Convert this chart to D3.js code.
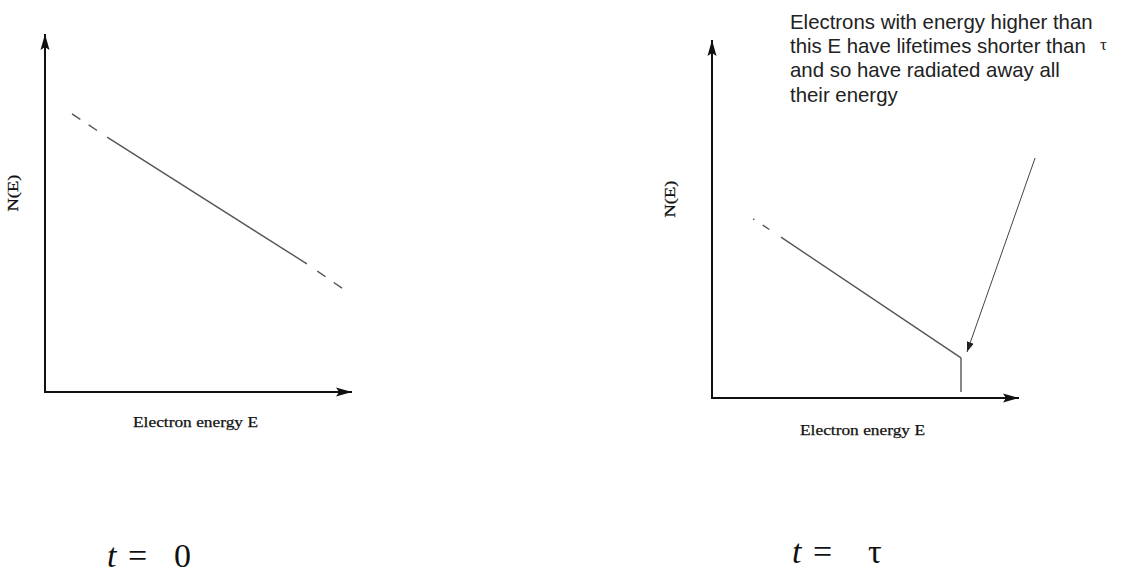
<!DOCTYPE html>
<html>
<head>
<meta charset="utf-8">
<script src="https://cdn.jsdelivr.net/npm/d3@7"></script>
<style>
  html, body { margin: 0; padding: 0; background: #fff; }
  svg { display: block; }
</style>
</head>
<body>
<svg id="chart" width="1127" height="573"></svg>
<script>
// ---------------- data ----------------
// panel titles
const panelTimes = ["0", "τ"];
// t = 0 spectrum (electron energy E, number N(E)) in arbitrary units
const energyT0 = [0.9, 2.07, 8.73, 9.9];
const countT0  = [7.9, 7.24, 3.64, 2.95];
// t = τ spectrum: power law then sharp cut-off
const energyTau = [1.37, 2.3, 8.3, 8.3];
const countTau  = [5.09, 4.57, 1.14, 0.17];
// annotation arrow (from, to) in data units of the t = τ panel
const arrowEnergy = [10.77, 8.5];
const arrowCount  = [6.82, 1.31];
// texts
const xAxisLabel = "Electron energy E";
const yAxisLabel = "N(E)";
const noteLines = [
  "Electrons with energy higher than",
  "this E have lifetimes shorter than",
  "and so have radiated away all",
  "their energy"
];

// ---------------- layout ----------------
const svg = d3.select("#chart");
svg.append("rect").attr("width", 1127).attr("height", 573).attr("fill", "#fff");

const defs = svg.append("defs");
defs.append("marker").attr("id", "axisHead")
  .attr("viewBox", "0 0 16 10").attr("refX", 16).attr("refY", 5)
  .attr("markerWidth", 16).attr("markerHeight", 10)
  .attr("markerUnits", "userSpaceOnUse").attr("orient", "auto")
  .append("path").attr("d", "M0,0.5 L16,5 L0,9.5 L3,5 Z").attr("fill", "#111");
defs.append("marker").attr("id", "noteHead")
  .attr("viewBox", "0 0 10 7").attr("refX", 10).attr("refY", 3.5)
  .attr("markerWidth", 10).attr("markerHeight", 7)
  .attr("markerUnits", "userSpaceOnUse").attr("orient", "auto")
  .append("path").attr("d", "M0,0 L10,3.5 L0,7 Z").attr("fill", "#222");

const panels = [
  { ox: 45, oy: 392, E: energyT0, N: countT0, lead: "10,10,10,12", labelY: 427, yLabelX: 18, yLabelY: 193,
    tX: 107, tY: 567, eqX: 128, valX: 174 },
  { ox: 712, oy: 398, E: energyTau, N: countTau, lead: "1.5,10,8,14", labelY: 435, yLabelX: 675, yLabelY: 199,
    tX: 792, tY: 563, eqX: 813, valX: 868 }
];
const axisW = 307, axisH = 358;

panels.forEach((p, i) => {
  const x = d3.scaleLinear().domain([0, 10]).range([p.ox, p.ox + 300]);
  const y = d3.scaleLinear().domain([0, 10]).range([p.oy, p.oy - 352]);
  const g = svg.append("g");

  // axes with arrow heads
  g.append("line").attr("x1", p.ox).attr("y1", p.oy + 1).attr("x2", p.ox).attr("y2", p.oy - axisH)
    .attr("stroke", "#111").attr("stroke-width", 2).attr("marker-end", "url(#axisHead)");
  g.append("line").attr("x1", p.ox - 1).attr("y1", p.oy).attr("x2", p.ox + axisW).attr("y2", p.oy)
    .attr("stroke", "#111").attr("stroke-width", 2).attr("marker-end", "url(#axisHead)");

  const pts = p.E.map((e, k) => ({ E: e, N: p.N[k] }));
  const line = d3.line().x(d => x(d.E)).y(d => y(d.N));

  // leading dashed part (drawn from the outer end inward)
  g.append("path").attr("d", line([pts[0], pts[1]]))
    .attr("fill", "none").attr("stroke", "#555").attr("stroke-width", 1.4)
    .attr("stroke-dasharray", p.lead);
  // solid body
  g.append("path").attr("d", line([pts[1], pts[2]]))
    .attr("fill", "none").attr("stroke", "#555").attr("stroke-width", 1.4);
  if (i === 0) {
    // trailing dashed part (drawn from outer end inward)
    g.append("path").attr("d", line([pts[3], pts[2]]))
      .attr("fill", "none").attr("stroke", "#555").attr("stroke-width", 1.4)
      .attr("stroke-dasharray", "10,10,10,14");
  } else {
    // cut-off drop
    g.append("path").attr("d", line([pts[2], pts[3]]))
      .attr("fill", "none").attr("stroke", "#555").attr("stroke-width", 1.4);
    // annotation arrow
    g.append("line")
      .attr("x1", x(arrowEnergy[0])).attr("y1", y(arrowCount[0]))
      .attr("x2", x(arrowEnergy[1])).attr("y2", y(arrowCount[1]))
      .attr("stroke", "#444").attr("stroke-width", 1).attr("marker-end", "url(#noteHead)");
  }

  // axis labels
  g.append("text").attr("x", (p.ox + p.ox + axisW + 2) / 2 - 4).attr("y", p.labelY)
    .attr("text-anchor", "middle").attr("font-family", "Liberation Serif").attr("font-size", 15)
    .attr("textLength", 125).attr("lengthAdjust", "spacingAndGlyphs")
    .attr("fill", "#111").attr("stroke", "#111").attr("stroke-width", 0.25).text(xAxisLabel);
  g.append("text").attr("transform", `translate(${p.yLabelX},${p.yLabelY}) rotate(-90)`)
    .attr("text-anchor", "middle").attr("font-family", "Liberation Serif").attr("font-size", 14)
    .attr("textLength", 37).attr("lengthAdjust", "spacingAndGlyphs")
    .attr("fill", "#111").attr("stroke", "#111").attr("stroke-width", 0.25).text(yAxisLabel);

  // panel time label
  const tl = svg.append("g").attr("font-family", "Liberation Serif").attr("font-size", 34).attr("fill", "#111");
  tl.append("text").attr("x", p.tX).attr("y", p.tY).attr("font-style", "italic").text("t");
  tl.append("text").attr("x", p.eqX).attr("y", p.tY).text("=");
  tl.append("text").attr("x", p.valX).attr("y", p.tY).text(panelTimes[i]);
});

// annotation text
const note = svg.append("text").attr("font-family", "Liberation Sans").attr("font-size", 20.4).attr("fill", "#222");
noteLines.forEach((t, k) => {
  note.append("tspan").attr("x", 790).attr("y", 29 + k * 24.2).text(t);
});
svg.append("text").attr("x", 1100).attr("y", 50).attr("font-family", "Liberation Serif")
  .attr("font-size", 17).attr("fill", "#222").text("τ");
</script>
</body>
</html>
